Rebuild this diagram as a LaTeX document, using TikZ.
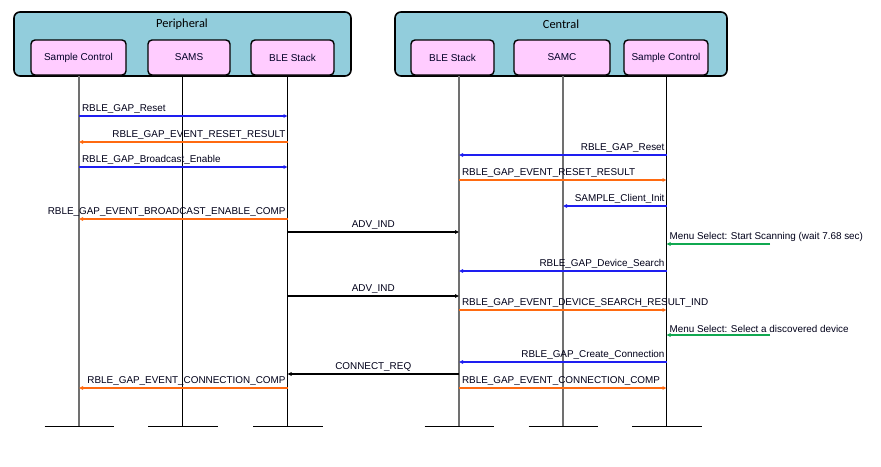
\documentclass[tikz,border=0pt]{standalone}
\usepackage{fontspec}
\setmainfont{Liberation Sans}
\newfontfamily\titlefont{Carlito}
\usetikzlibrary{arrows.meta}
\definecolor{grpfill}{HTML}{92CDDC}
\definecolor{boxfill}{HTML}{FFCCFF}
\definecolor{msgblue}{HTML}{1E1EF0}
\definecolor{msgorange}{HTML}{FF6A10}
\definecolor{msggreen}{HTML}{10A850}
\definecolor{lifegrey}{HTML}{707070}
\tikzset{
  grp/.style={draw=black, line width=1.6pt, fill=grpfill, rounded corners=6pt},
  comp/.style={draw=black, line width=1.4pt, fill=boxfill, rounded corners=4pt,
    minimum height=35pt, inner sep=0pt, font=\fontsize{10}{12}\selectfont, text=black!85!blue},
  grptitle/.style={font=\titlefont\fontsize{12.4}{14}\selectfont},
  life/.style={line width=1.1pt, draw=black},
  lifeg/.style={line width=1.8pt, draw=lifegrey},
  foot/.style={line width=1pt, draw=black},
  msg/.style={line width=2pt, -{Triangle[length=4pt,width=3.5pt]}},
  blue msg/.style={msg, draw=msgblue},
  orange msg/.style={msg, draw=msgorange},
  green msg/.style={msg, draw=msggreen},
  black msg/.style={msg, draw=black},
  lbl/.style={font=\fontsize{9.9}{11}\selectfont, inner sep=0pt, text=black!90!blue},
}
\begin{document}
\begin{tikzpicture}[x=1pt,y=-1pt]
\useasboundingbox (0,0) rectangle (881,466);
% group boxes
\draw[grp] (14,12) rectangle (351,76);
\draw[grp] (395,12) rectangle (727,76);
\node[grptitle] (ptitle) at (182,24) {Peripheral};
\node[grptitle] (ctitle) at (561,24) {Central};
% components
\node[comp, minimum width=95pt] (psc) at (78.5,57.5) {Sample Control};
\node[comp, minimum width=82pt] (psams) at (189,57.5) {SAMS};
\node[comp, minimum width=83pt] (pble) at (292.5,57.5) {BLE Stack};
\node[comp, minimum width=83pt] (cble) at (452.5,57.5) {BLE Stack};
\node[comp, minimum width=96pt] (csamc) at (562,57.5) {SAMC};
\node[comp, minimum width=84pt] (csc) at (666,57.5) {Sample Control};
% lifeline coordinates
\coordinate (L1t) at (79,76);  \coordinate (L1b) at (79,426);
\coordinate (L2t) at (182.5,76); \coordinate (L2b) at (182.5,426);
\coordinate (L3t) at (287.5,76); \coordinate (L3b) at (287.5,426);
\coordinate (L4t) at (459,76); \coordinate (L4b) at (459,426);
\coordinate (L5t) at (563,76); \coordinate (L5b) at (563,426);
\coordinate (L6t) at (666.5,76); \coordinate (L6b) at (666.5,426);
\coordinate (user) at (770,0);
\draw[lifeg] (L1t) -- (L1b);
\draw[life]  (L2t) -- (L2b);
\draw[life]  (L3t) -- (L3b);
\draw[lifeg] (L4t) -- (L4b);
\draw[lifeg] (L5t) -- (L5b);
\draw[life]  (L6t) -- (L6b);
\foreach \c in {L1b,L2b,L3b,L4b,L5b,L6b}{
  \draw[foot] ([xshift=-34.5pt]\c) -- ([xshift=35pt]\c);
}
% messages: peripheral
\draw[blue msg] (L1t |- 0,116) -- (L3t |- 0,116)
  node[lbl, pos=0, anchor=south west, xshift=2pt, yshift=1.5pt] {RBLE\_GAP\_Reset};
\draw[orange msg] (L3t |- 0,142) -- (L1t |- 0,142)
  node[lbl, pos=0, anchor=south east, xshift=-1pt, yshift=1.5pt] {RBLE\_GAP\_EVENT\_RESET\_RESULT};
\draw[blue msg] (L1t |- 0,167) -- (L3t |- 0,167)
  node[lbl, pos=0, anchor=south west, xshift=2pt, yshift=1.5pt] {RBLE\_GAP\_Broadcast\_Enable};
\draw[orange msg] (L3t |- 0,219) -- (L1t |- 0,219)
  node[lbl, pos=0, anchor=south east, xshift=-1pt, yshift=1.5pt] {RBLE\_GAP\_EVENT\_BROADCAST\_ENABLE\_COMP};
\draw[black msg] (L3t |- 0,232) -- (L4t |- 0,232)
  node[lbl, midway, anchor=south, xshift=0pt, yshift=1.5pt] {ADV\_IND};
% messages: central
\draw[blue msg] (L6t |- 0,155) -- (L4t |- 0,155)
  node[lbl, pos=0, anchor=south east, xshift=-1pt, yshift=1.5pt] {RBLE\_GAP\_Reset};
\draw[orange msg] (L4t |- 0,180) -- (L6t |- 0,180)
  node[lbl, pos=0, anchor=south west, xshift=2pt, yshift=1.5pt] {RBLE\_GAP\_EVENT\_RESET\_RESULT};
\draw[blue msg] (L6t |- 0,206) -- (L5t |- 0,206)
  node[lbl, pos=0, anchor=south east, xshift=-1pt, yshift=1.5pt] {SAMPLE\_Client\_Init};
\draw[green msg] (user |- 0,244) -- (L6t |- 0,244)
  node[lbl, pos=1, anchor=south west, xshift=2pt, yshift=1.5pt] {Menu Select: Start Scanning (wait 7.68 sec)};
\draw[blue msg] (L6t |- 0,271) -- (L4t |- 0,271)
  node[lbl, pos=0, anchor=south east, xshift=-1pt, yshift=1.5pt] {RBLE\_GAP\_Device\_Search};
\draw[black msg] (L3t |- 0,296) -- (L4t |- 0,296)
  node[lbl, midway, anchor=south, yshift=1.5pt] {ADV\_IND};
\draw[orange msg] (L4t |- 0,310) -- (L6t |- 0,310)
  node[lbl, pos=0, anchor=south west, xshift=2pt, yshift=1.5pt] {RBLE\_GAP\_EVENT\_DEVICE\_SEARCH\_RESULT\_IND};
\draw[green msg] (user |- 0,335) -- (L6t |- 0,335)
  node[lbl, pos=1, anchor=south west, xshift=2pt, yshift=1.5pt] {Menu Select: Select a discovered device};
\draw[blue msg] (L6t |- 0,362) -- (L4t |- 0,362)
  node[lbl, pos=0, anchor=south east, xshift=-1pt, yshift=1.5pt] {RBLE\_GAP\_Create\_Connection};
\draw[black msg] (L4t |- 0,374) -- (L3t |- 0,374)
  node[lbl, midway, anchor=south, yshift=1.5pt] {CONNECT\_REQ};
\draw[orange msg] (L3t |- 0,388) -- (L1t |- 0,388)
  node[lbl, pos=0, anchor=south east, xshift=-1pt, yshift=1.5pt] {RBLE\_GAP\_EVENT\_CONNECTION\_COMP};
\draw[orange msg] (L4t |- 0,388) -- (L6t |- 0,388)
  node[lbl, pos=0, anchor=south west, xshift=2pt, yshift=1.5pt] {RBLE\_GAP\_EVENT\_CONNECTION\_COMP};
\end{tikzpicture}
\end{document}
